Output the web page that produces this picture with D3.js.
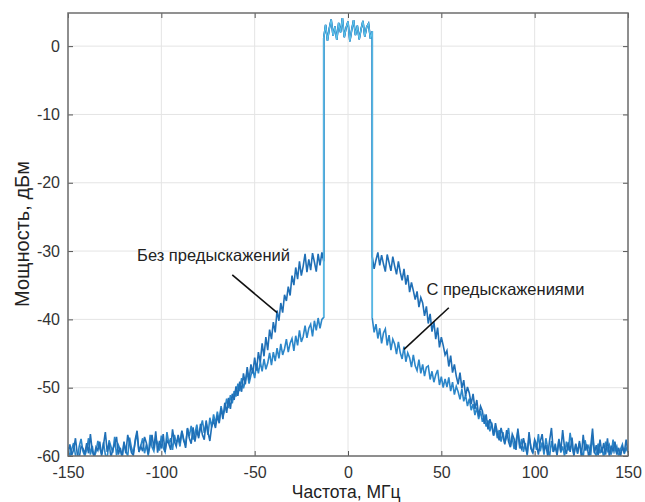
<!DOCTYPE html>
<html>
<head>
<meta charset="utf-8">
<script src="https://cdn.jsdelivr.net/npm/d3@7"></script>
<style>
  body { margin: 0; background: #fff; }
  text { font-family: "Liberation Sans", Arial, sans-serif; }
</style>
</head>
<body>
<script>
// chart size
var w = 645;
var h = 502;
var margin = {top: 13, right: 17, bottom: 46, left: 68};

// x ticks / y ticks
var xTicks = [-150, -100, -50, 0, 50, 100, 150];
var yTicks = [-60, -50, -40, -30, -20, -10, 0];

// frequency grids, MHz (sample points of the spectrum)
var freqLeft = d3.range(-150, -12.5, 1);   // -150 .. -13
var freqBand = d3.range(-13, 13.5, 1);     // -13 .. 13
var freqRight = d3.range(13, 150.5, 1);    // 13 .. 150

// in-band power, dBm
var bandPower = [1.2, 3.1, 0.8, 2.6, 3.9, 1.5, 2.9, 0.9, 3.4, 2.0, 4.1, 1.3, 2.7, 3.6,
  0.7, 2.4, 3.8, 1.6, 3.0, 1.0, 2.5, 3.7, 1.4, 2.8, 3.3, 1.1, 2.2];

// without predistortion, left side (-150 .. -13)
var noPdLeft = [
  -59.6,-58.3,-59.9,-59.1,-57.4,-59.8,-60.3,-58.6,-58.9,-59.7,
  -58.1,-59.6,-56.8,-59.3,-60.1,-58.7,-59.2,-57.9,-60.0,-58.4,
  -56.5,-59.4,-58.1,-60.2,-59.0,-58.3,-57.2,-59.8,-58.8,-60.1,
  -57.9,-59.6,-56.9,-58.2,-59.5,-59.9,-57.6,-56.3,-59.4,-58.6,
  -59.3,-57.2,-58.1,-59.7,-58.4,-56.9,-58.9,-56.4,-59.5,-57.8,
  -58.9,-56.8,-59.4,-57.7,-58.2,-59.1,-56.1,-57.9,-58.6,-56.9,
  -58.1,-56.3,-57.6,-58.8,-55.9,-57.4,-58.2,-55.8,-57.9,-56.2,
  -57.4,-55.3,-56.9,-57.6,-54.8,-56.5,-57.8,-55.6,-54.9,-55.9,
  -54.1,-55.2,-53.0,-54.6,-52.2,-53.7,-51.5,-53.1,-50.9,-51.8,
  -49.8,-51.2,-49.1,-50.6,-47.9,-49.5,-47.0,-48.9,-46.6,-47.9,
  -45.6,-47.5,-44.8,-46.3,-43.5,-45.4,-42.6,-44.5,-41.5,-42.9,
  -40.4,-41.9,-38.7,-40.2,-37.6,-39.0,-36.4,-37.3,-35.2,-36.5,
  -33.6,-35.0,-32.4,-34.1,-31.5,-33.6,-32.2,-30.4,-33.1,-31.2,
  -32.8,-30.3,-31.6,-33.0,-30.4,-32.1,-30.2,-31.5];

// with predistortion, left side (-150 .. -13)
var pdLeft = [
  -58.7,-60.2,-59.0,-58.1,-59.9,-60.4,-58.6,-57.5,-59.3,-60.0,
  -59.1,-57.4,-59.8,-58.5,-60.2,-59.4,-57.8,-58.9,-59.7,-58.0,
  -59.8,-60.3,-57.7,-58.6,-59.5,-57.2,-59.9,-58.4,-59.1,-60.2,
  -58.2,-59.3,-60.0,-57.3,-58.8,-59.6,-58.0,-56.7,-59.4,-58.5,
  -57.4,-59.6,-58.3,-60.0,-56.9,-58.7,-59.3,-57.5,-58.1,-59.2,
  -57.0,-58.8,-59.4,-56.5,-58.2,-57.4,-59.1,-56.9,-58.0,-57.5,
  -58.6,-56.4,-57.8,-58.3,-56.0,-57.1,-55.6,-57.6,-56.7,-55.4,
  -57.1,-55.9,-54.8,-56.6,-55.2,-56.9,-54.4,-55.8,-53.9,-55.3,
  -53.5,-54.9,-52.7,-54.1,-53.2,-51.6,-53.0,-51.1,-52.3,-50.5,
  -51.3,-49.4,-50.5,-48.6,-50.1,-49.0,-47.7,-49.4,-48.2,-47.3,
  -48.6,-46.5,-47.9,-46.2,-47.6,-45.8,-47.3,-46.4,-44.9,-46.7,
  -44.8,-46.1,-44.2,-45.7,-43.6,-45.2,-44.3,-42.9,-44.8,-43.5,
  -42.8,-44.6,-42.4,-43.8,-41.6,-43.3,-42.5,-40.9,-42.7,-41.3,
  -40.7,-42.5,-40.2,-41.6,-39.8,-41.3,-40.0,-39.7];

// without predistortion, right side (13 .. 150)
var noPdRight = [
  -30.8,-32.6,-31.3,-30.2,-32.1,-30.6,-31.9,-33.0,-30.5,-31.7,
  -32.9,-30.8,-32.2,-33.4,-31.5,-33.1,-34.3,-32.6,-34.9,-33.5,
  -36.0,-34.6,-35.8,-37.1,-35.9,-38.2,-36.8,-37.6,-39.5,-38.1,
  -40.6,-39.2,-41.8,-40.3,-42.9,-41.2,-44.1,-42.6,-43.8,-45.2,
  -44.6,-46.9,-45.3,-47.8,-46.6,-48.3,-49.5,-47.8,-50.1,-48.9,
  -51.2,-49.9,-50.8,-52.4,-50.9,-53.1,-51.8,-54.2,-52.7,-53.4,
  -55.3,-53.9,-56.1,-54.6,-55.5,-57.0,-55.2,-56.6,-57.7,-55.9,
  -57.1,-58.3,-56.2,-57.9,-58.7,-56.8,-57.5,-59.1,-56.0,-58.4,
  -59.0,-57.4,-58.6,-59.7,-56.5,-58.9,-59.5,-57.6,-58.3,-59.8,
  -57.9,-56.8,-59.2,-58.4,-60.0,-57.7,-55.9,-59.4,-58.6,-59.9,
  -57.6,-59.3,-56.2,-58.8,-59.7,-58.0,-59.4,-57.3,-60.0,-58.2,
  -59.5,-57.8,-60.1,-56.9,-59.2,-58.3,-60.2,-58.7,-56.0,-59.6,
  -58.4,-59.9,-57.6,-59.5,-58.1,-59.8,-57.4,-60.1,-58.5,-59.3,
  -57.9,-59.8,-58.8,-60.0,-58.7,-59.5,-57.6,-59.4];

// with predistortion, right side (13 .. 150)
var pdRight = [
  -39.8,-41.9,-40.7,-42.8,-41.3,-43.5,-42.0,-41.4,-43.8,-42.3,
  -44.5,-42.9,-43.6,-45.1,-43.3,-44.9,-45.8,-44.0,-46.2,-44.9,
  -45.6,-47.0,-45.2,-46.8,-47.5,-45.9,-47.9,-46.6,-48.3,-47.0,
  -46.8,-48.8,-47.6,-49.2,-48.1,-47.4,-49.6,-48.4,-50.0,-48.7,
  -49.9,-48.5,-50.5,-49.2,-51.0,-49.8,-50.6,-51.7,-50.2,-52.0,
  -51.1,-52.7,-51.6,-53.3,-52.4,-54.0,-52.9,-54.6,-53.4,-55.0,
  -54.2,-55.7,-54.8,-56.4,-55.1,-57.0,-55.8,-57.4,-56.2,-57.9,
  -56.5,-58.1,-57.2,-55.9,-58.6,-57.3,-59.0,-57.8,-56.4,-58.9,
  -57.5,-59.4,-58.1,-59.9,-57.2,-58.7,-59.6,-57.9,-59.1,-56.8,
  -59.3,-58.0,-59.8,-57.4,-58.9,-60.1,-57.8,-59.4,-58.2,-59.7,
  -57.5,-59.5,-58.6,-60.0,-57.9,-59.2,-56.6,-58.7,-59.8,-58.3,
  -59.7,-58.1,-59.3,-60.2,-57.7,-59.0,-58.5,-59.9,-57.2,-59.4,
  -60.0,-58.2,-59.6,-58.7,-60.3,-57.9,-59.2,-58.4,-59.8,-57.6,
  -59.3,-58.6,-60.1,-59.0,-58.3,-59.7,-58.8,-59.5];

// pair up frequency and power
function zip(f, p) {
  return f.map(function(d, i) { return [d, p[i]]; });
}
var seriesNoPd = zip(freqLeft, noPdLeft).concat(zip(freqBand, bandPower), zip(freqRight, noPdRight));
var seriesPd = zip(freqLeft, pdLeft).concat(zip(freqBand, bandPower), zip(freqRight, pdRight));
// in-band part with its skirts, drawn on top in light colour
var seriesBand = [[freqLeft[freqLeft.length - 1], pdLeft[pdLeft.length - 1]]]
  .concat(zip(freqBand, bandPower), [[freqRight[0], pdRight[0]]]);

var iw = w - margin.left - margin.right;
var ih = h - margin.top - margin.bottom;

var x = d3.scaleLinear().domain([-150, 150]).range([0, iw]);
var y = d3.scaleLinear().domain([-60, 4.85]).range([ih, 0]);

var svg = d3.select("body").append("svg")
  .attr("width", w)
  .attr("height", h);

var g = svg.append("g")
  .attr("transform", "translate(" + margin.left + "," + margin.top + ")");

// grid
g.append("g").selectAll("line")
  .data(xTicks).enter().append("line")
  .attr("x1", function(d) { return x(d); })
  .attr("x2", function(d) { return x(d); })
  .attr("y1", 0).attr("y2", ih)
  .attr("stroke", "#e4e4e4");
g.append("g").selectAll("line")
  .data(yTicks).enter().append("line")
  .attr("x1", 0).attr("x2", iw)
  .attr("y1", function(d) { return y(d); })
  .attr("y2", function(d) { return y(d); })
  .attr("stroke", "#e4e4e4");

// clip the traces to the axes box
svg.append("defs").append("clipPath").attr("id", "clip")
  .append("rect").attr("width", iw).attr("height", ih);

var line = d3.line()
  .x(function(d) { return x(d[0]); })
  .y(function(d) { return y(d[1]); });

var plot = g.append("g").attr("clip-path", "url(#clip)");

plot.append("path").datum(seriesPd)
  .attr("d", line)
  .attr("fill", "none")
  .attr("stroke", "#2b86c9")
  .attr("stroke-width", 1.6);

plot.append("path").datum(seriesNoPd)
  .attr("d", line)
  .attr("fill", "none")
  .attr("stroke", "#1f6fb6")
  .attr("stroke-width", 1.6);

plot.append("path").datum(seriesBand)
  .attr("d", line)
  .attr("fill", "none")
  .attr("stroke", "#5cc2ea")
  .attr("stroke-width", 1.2);

// axes, ticks inside like matlab
function styleAxis(sel) {
  sel.select(".domain").remove();
  sel.selectAll(".tick line").attr("stroke", "#555");
  sel.selectAll("text").attr("fill", "#333").style("font-size", "16px");
}
var plain = function(d) { return String(d); }; // keep the ascii hyphen

g.append("g")
  .attr("transform", "translate(0," + ih + ")")
  .call(d3.axisBottom(x).tickValues(xTicks).tickSize(-5).tickPadding(11).tickFormat(plain))
  .call(styleAxis);

g.append("g")
  .call(d3.axisLeft(y).tickValues(yTicks).tickSize(-5).tickPadding(8).tickFormat(plain))
  .call(styleAxis);

g.append("g")
  .call(d3.axisTop(x).tickValues(xTicks).tickSize(-5).tickFormat(""))
  .call(styleAxis);

g.append("g")
  .attr("transform", "translate(" + iw + ",0)")
  .call(d3.axisRight(y).tickValues(yTicks).tickSize(-5).tickFormat(""))
  .call(styleAxis);

// box
g.append("rect")
  .attr("width", iw).attr("height", ih)
  .attr("fill", "none")
  .attr("stroke", "#6e6e6e")
  .attr("stroke-width", 1.5);

// axis titles
svg.append("text")
  .attr("x", margin.left + x(-1))
  .attr("y", 498)
  .attr("text-anchor", "middle")
  .attr("fill", "#222")
  .style("font-size", "17.5px")
  .text("Частота, МГц");

svg.append("text")
  .attr("transform", "translate(29," + (margin.top + y(-27.5)) + ") rotate(-90)")
  .attr("text-anchor", "middle")
  .attr("fill", "#222")
  .style("font-size", "20px")
  .text("Мощность, дБм");

// annotations with pointer lines
var notes = [
  {text: "Без предыскажений", tx: -113, ty: -31.5, from: [-62, -33.5], to: [-38, -39]},
  {text: "С предыскажениями", tx: 42, ty: -36.4, from: [54, -38.3], to: [30, -44.4]}
];

notes.forEach(function(n) {
  g.append("text")
    .attr("x", x(n.tx))
    .attr("y", y(n.ty))
    .attr("fill", "#222")
    .style("font-size", "16.5px")
    .text(n.text);
  g.append("line")
    .attr("x1", x(n.from[0])).attr("y1", y(n.from[1]))
    .attr("x2", x(n.to[0])).attr("y2", y(n.to[1]))
    .attr("stroke", "#111")
    .attr("stroke-width", 1.6);
});
</script>
</body>
</html>
